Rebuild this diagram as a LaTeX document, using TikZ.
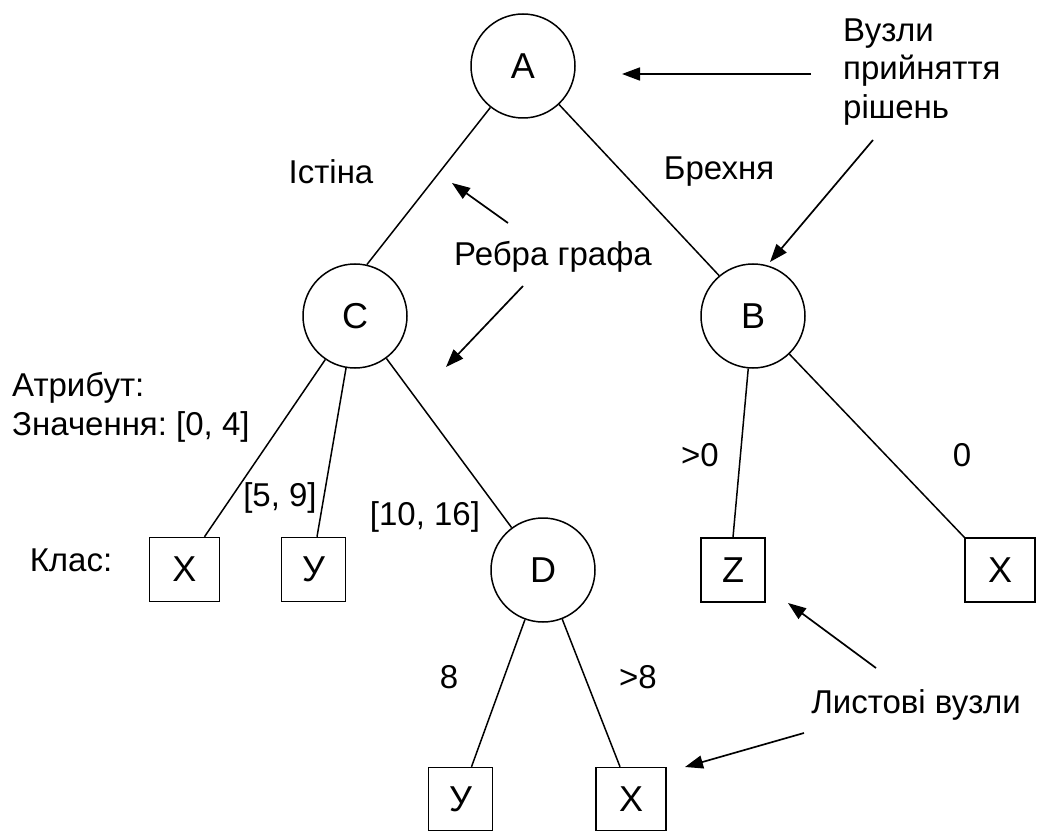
\documentclass[tikz,border=0pt]{standalone}
\usepackage{fontspec}
\setmainfont{Liberation Sans}
\usetikzlibrary{arrows.meta,calc}
\begin{document}
\begin{tikzpicture}[x=1pt,y=-1pt,
  edge/.style={line width=1.5pt},
  pointer/.style={line width=1.7pt,-{Triangle[length=18pt,width=13pt]}},
  dnode/.style={circle,draw,line width=1.5pt,minimum size=104pt,inner sep=0pt,font=\fontsize{36}{40}\selectfont},
  leaf/.style={rectangle,draw,line width=1.5pt,minimum width=64pt,minimum height=64pt,inner sep=0pt,font=\fontsize{36}{40}\selectfont},
  wleaf/.style={leaf,minimum width=70pt},
  lbl/.style={inner sep=0pt,font=\fontsize{33}{38.5}\selectfont\frenchspacing}
]
\useasboundingbox (0,0) rectangle (1037,832);
% decision nodes
\node[dnode] (A) at (523,66) {A};
\node[dnode] (B) at (753,316) {B};
\node[dnode] (C) at (355,316) {C};
\node[dnode] (D) at (543,570) {D};
% leaves
\node[wleaf] (X1) at (184.5,569.5) {X};
\node[leaf] (Y1) at (313.5,569.5) {У};
\node[leaf] (Z) at (733,570) {Z};
\node[wleaf] (X3) at (1000,570) {X};
\node[leaf,minimum height=63pt] (Y2) at (460.5,799) {У};
\node[wleaf,minimum height=63pt] (X2) at (631,799) {X};
% edges
\draw[edge] (A) -- (C.77);
\draw[edge] (A) -- (B.130);
\draw[edge] (C) -- ($(X1.north)+(20,0)$);
\draw[edge] (C) -- ($(Y1.north)+(3.5,0)$);
\draw[edge] (C) -- (D);
\draw[edge] (B) -- (Z.north);
\draw[edge] (B) -- (X3.north west);
\draw[edge] (D) -- ($(Y2.north)+(11,0)$);
\draw[edge] (D) -- ($(X2.north)+(-11,0)$);
% labels
\node[lbl,anchor=west,align=left] (dec) at (843,72) {Вузли\\прийняття\\рішень};
\node[lbl] (t) at (331,172) {Істіна};
\node[lbl] (f) at (719,172) {Брехня};
\node[lbl] (edg) at (553,257) {Ребра графа};
\node[lbl,anchor=west,align=left] (attr) at (12,407.5) {Атрибут:\\Значення: [0, 4]};
\node[lbl] (l59) at (280,498) {[5, 9]};
\node[lbl] (l1016) at (425,517) {[10, 16]};
\node[lbl] (cls) at (71,560) {Клас:};
\node[lbl] (gt0) at (700,455) {>0};
\node[lbl] (z0) at (962,455) {0};
\node[lbl] (e8) at (449,677) {8};
\node[lbl] (gt8) at (638,677) {>8};
\node[lbl] (leaves) at (916,705) {Листові вузли};
% pointer arrows
\coordinate (p1s) at (811,74);
\coordinate (p1e) at (622,74);
\coordinate (p2s) at (873,140);
\coordinate (p2e) at (770,262);
\coordinate (p3s) at (508,223);
\coordinate (p3e) at (452,183);
\coordinate (p4s) at (523,286);
\coordinate (p4e) at (446,367);
\coordinate (p5s) at (876,668);
\coordinate (p5e) at (788,603);
\coordinate (p6s) at (804,733);
\coordinate (p6e) at (685,767);
\draw[pointer] (p1s) -- (p1e);
\draw[pointer] (p2s) -- (p2e);
\draw[pointer] (p3s) -- (p3e);
\draw[pointer] (p4s) -- (p4e);
\draw[pointer] (p5s) -- (p5e);
\draw[pointer] (p6s) -- (p6e);
\end{tikzpicture}
\end{document}
